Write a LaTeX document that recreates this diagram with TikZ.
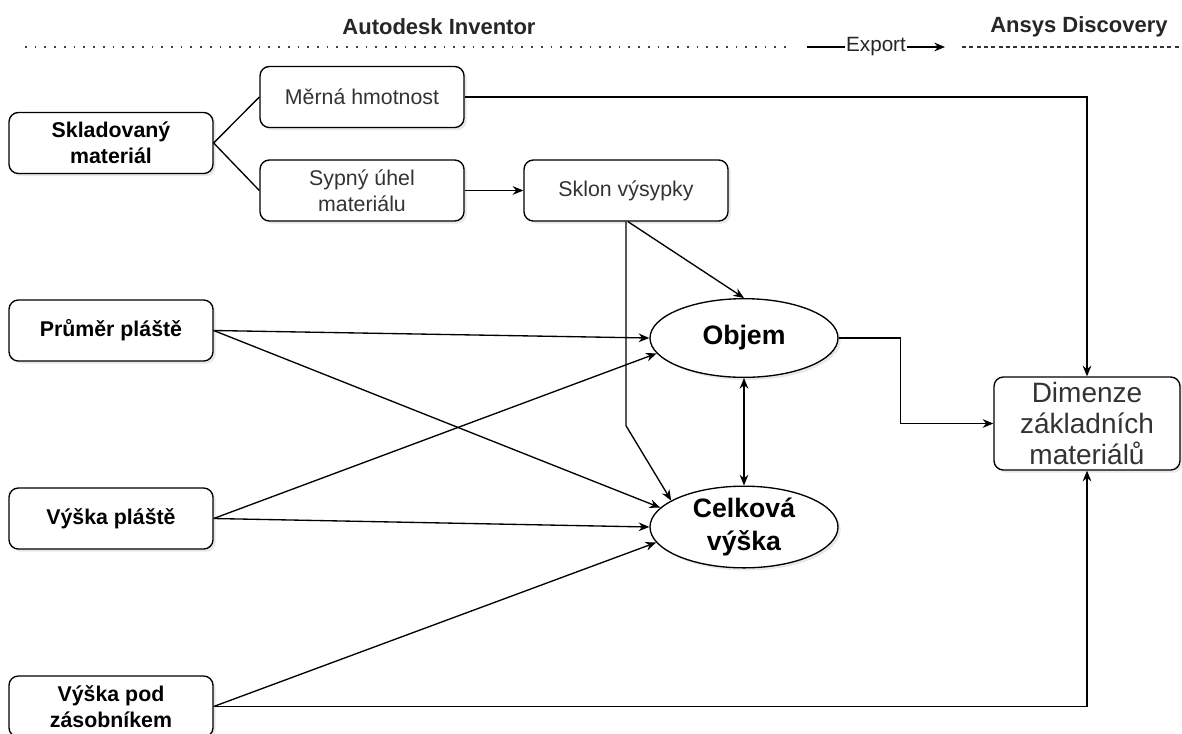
\documentclass[tikz,border=0pt]{standalone}
\usepackage{fontspec}
\setmainfont{Liberation Sans}
\usetikzlibrary{arrows.meta,shapes.geometric,shadows}

\begin{document}
\begin{tikzpicture}[x=0.75pt,y=-0.75pt,line width=1pt,>={Stealth[length=8pt,width=6.5pt]},        stin/.style={drop shadow={shadow xshift=2pt,shadow yshift=-2pt,opacity=0.18}},      blok/.style={rectangle,rounded corners=7pt,draw=black,fill=white,stin,minimum width=153pt,minimum height=45.75pt,inner sep=0pt,align=center,text=black!80,font=\fontsize{16}{19.5}\selectfont},      blokb/.style={blok,text=black,font=\fontsize{16}{19.5}\selectfont\bfseries},      elipsa/.style={ellipse,draw=black,fill=white,stin,minimum width=141pt,minimum height=59pt,inner sep=0pt,align=center,font=\fontsize{20}{24.5}\selectfont\bfseries},        dimenze/.style={blok,minimum width=139.5pt,minimum height=69.75pt,font=\fontsize{21}{23}\selectfont},      nadpis/.style={font=\fontsize{16.5}{20}\selectfont\bfseries,text=black!85}  ]
    \useasboundingbox (0,0) rectangle (1182,733);

    \node[nadpis] (inventor) at (439,27) {Autodesk Inventor};
    \node[nadpis] (ansys) at (1079,27) {Ansys Discovery};
    \coordinate (tecka1) at (25,47);
    \coordinate (tecka2) at (792,47);
    \coordinate (export1) at (807,47);
    \coordinate (export2) at (945,47);
    \coordinate (carka1) at (962,47);
    \coordinate (carka2) at (1182,47);
    \draw[line width=1.3pt,dash pattern=on 1.3pt off 6pt,black!75] (tecka1) -- (tecka2);
    \draw[->] (export1) -- node[fill=white,inner sep=1pt,text=black!85,font=\fontsize{15.5}{18}\selectfont] (export) {Export} (export2);
    \draw[line width=0.8pt,dash pattern=on 3pt off 2.5pt,black!80] (carka1) -- (carka2);

    \node[blokb] (skl) at (111,143) {Skladovaný\\materiál};
    \node[blok] (mer) at (362,97) {Měrná hmotnost};
    \node[blok] (syp) at (362,190.5) {Sypný úhel\\materiálu};
    \node[blok] (sklon) at (626,190.5) {Sklon výsypky};
    \node[blokb] (pru) at (111,330.5) {Průměr pláště};
    \node[blokb] (vpl) at (111,518.5) {Výška pláště};
    \node[blokb] (vpod) at (111,706.5) {Výška pod\\zásobníkem};
    \node[elipsa] (obj) at (744,338) {Objem};
    \node[elipsa] (cel) at (744,527) {Celková\\výška};
    \node[dimenze] (dim) at (1087,423.5) {Dimenze\\základních\\materiálů};

    \draw (skl.east) -- (mer.west);
    \draw (skl.east) -- (syp.west);
    \draw[->] (syp) -- (sklon);
    \draw[->] (mer.east) -| (dim.north);
    \draw[->] ([xshift=1.5pt]sklon.south) -- (obj.north);
    \draw[->] (sklon.south) -- ++(0,204) -- (cel.160);
    \draw[->] (pru.east) -- (obj.west);
    \draw[->] (pru.east) -- (cel.167);
    \draw[->] (vpl.east) -- (obj.190);
    \draw[->] (vpl.east) -- (cel.west);
    \draw[->] (vpod.east) -- (cel.190);
    \draw[->] (vpod.east) -| (dim.south);
    \draw[->] (obj.east) -- ++(62,0) |- (dim.west);
    \draw[<->] (obj.south) -- (cel.north);
\end{tikzpicture}
\end{document}
